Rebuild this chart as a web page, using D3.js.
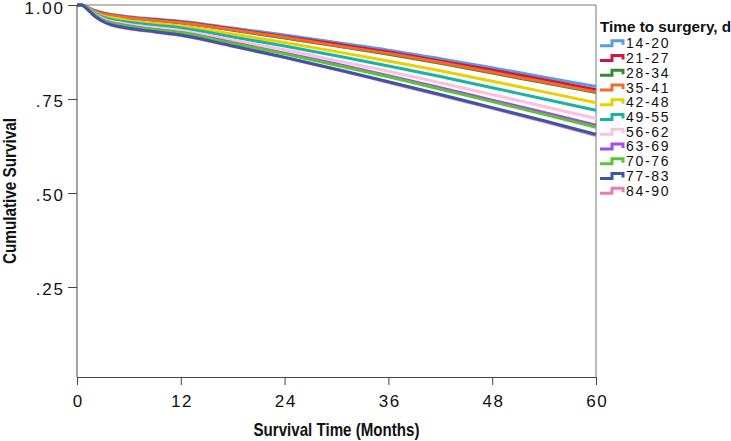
<!DOCTYPE html>
<html><head><meta charset="utf-8">
<script src="https://cdn.jsdelivr.net/npm/d3@7"></script>
<style>
html,body{margin:0;padding:0;background:#fff;}
svg{display:block;font-family:"Liberation Sans",Arial,sans-serif;}
</style></head>
<body>
<svg id="chart" width="731" height="441"></svg>
<script>
// ---- data ----
const months = [0, 0.5, 1, 1.5, 2, 3, 4, 5, 6, 9, 12, 18, 24, 30, 36, 42, 48, 54, 60];
const groups = ["14-20","21-27","28-34","35-41","42-48","49-55","56-62","63-69","70-76","77-83","84-90"];
const colors = ["#5b9be6","#d7153a","#2e8b2e","#f26b2a","#e6d200","#18b3a2","#f7c3de","#a24be6","#5dc236","#3c56a6","#f07bae"];
const s14_20 = [1,1,0.996,0.991,0.986,0.979,0.975,0.972,0.969,0.963,0.957,0.939,0.920,0.900,0.880,0.857,0.833,0.808,0.783];
const s21_27 = [1,1,0.996,0.990,0.985,0.978,0.973,0.970,0.967,0.961,0.955,0.936,0.916,0.896,0.875,0.851,0.827,0.801,0.775];
const s28_34 = [1,1,0.996,0.990,0.984,0.976,0.971,0.968,0.965,0.959,0.952,0.933,0.912,0.891,0.869,0.845,0.819,0.793,0.767];
const s35_41 = [1,1,0.996,0.990,0.984,0.976,0.972,0.969,0.966,0.959,0.953,0.934,0.914,0.892,0.871,0.847,0.821,0.795,0.769];
const s42_48 = [1,1,0.995,0.988,0.981,0.971,0.966,0.962,0.958,0.951,0.944,0.923,0.900,0.876,0.851,0.825,0.797,0.769,0.740];
const s49_55 = [1,1,0.995,0.987,0.979,0.968,0.961,0.957,0.954,0.946,0.939,0.915,0.891,0.865,0.838,0.810,0.780,0.750,0.720];
const s56_62 = [1,1,0.994,0.985,0.976,0.964,0.956,0.952,0.948,0.940,0.932,0.907,0.881,0.852,0.824,0.793,0.762,0.730,0.698];
const s63_69 = [1,1,0.994,0.984,0.974,0.960,0.952,0.948,0.944,0.935,0.927,0.900,0.872,0.843,0.812,0.780,0.747,0.714,0.680];
const s70_76 = [1,1,0.993,0.983,0.973,0.959,0.951,0.947,0.943,0.934,0.926,0.898,0.870,0.840,0.809,0.776,0.743,0.709,0.675];
const s77_83 = [1,1,0.993,0.982,0.971,0.956,0.947,0.942,0.938,0.929,0.920,0.891,0.861,0.829,0.796,0.762,0.727,0.692,0.656];
const s84_90 = [1,1,0.993,0.982,0.971,0.956,0.946,0.941,0.937,0.928,0.919,0.890,0.860,0.828,0.794,0.760,0.725,0.690,0.653];
const seriesValues = [s14_20,s21_27,s28_34,s35_41,s42_48,s49_55,s56_62,s63_69,s70_76,s77_83,s84_90];
const xTicks = [0,12,24,36,48,60];
const yTicks = [0.25,0.50,0.75,1.00];
const yTickLabels = [".25",".50",".75","1.00"];
const xTitle = "Survival Time (Months)";
const yTitle = "Cumulative Survival";
const legendTitle = "Time to surgery, d";

// ---- layout ----
const L = 77, R = 596, T = 5, B = 377;
const svg = d3.select("#chart");
const x = d3.scaleLinear().domain([0,60]).range([L,R]);
const y = d3.scaleLinear().domain([0,1]).range([381,T]);
const axisColor = "#444";

// frame (top & right)
svg.append("path").attr("d",`M${L},${T}H${R}V${B}`).attr("fill","none").attr("stroke","#777").attr("stroke-width",1);

// curves
const line = d3.line().x(d=>x(d[0])).y(d=>y(d[1])).curve(d3.curveMonotoneX);
const drawOrder = [10,0,1,2,3,4,5,6,7,8,9];
svg.append("g").selectAll("path").data(drawOrder).join("path")
  .attr("d", i => line(months.map((m,k)=>[m, seriesValues[i][k]])))
  .attr("fill","none").attr("stroke", i=>colors[i]).attr("stroke-width",3).attr("stroke-linejoin","round");

// x axis
const xAxis = d3.axisBottom(x).tickValues(xTicks).tickSize(8).tickSizeOuter(0).tickFormat(d3.format("d"));
const gx = svg.append("g").attr("transform",`translate(0,${B})`).call(xAxis);
gx.select(".domain").attr("stroke",axisColor);
gx.selectAll(".tick line").attr("stroke",axisColor);
gx.selectAll(".tick text").attr("fill","#111").attr("font-size",17).attr("letter-spacing","1.6px")
  .attr("y",null).attr("dy",null).attr("dx","0.8px").attr("transform","translate(0,29.5)");

// y axis
const yAxis = d3.axisLeft(y).tickValues(yTicks).tickSize(9).tickSizeOuter(0).tickFormat((d,i)=>yTickLabels[i]);
const gy = svg.append("g").attr("transform",`translate(${L},0)`).call(yAxis);
gy.select(".domain").attr("d",`M0,${B}V${T}`).attr("stroke",axisColor);
gy.selectAll(".tick line").attr("stroke",axisColor);
gy.selectAll(".tick text").attr("fill","#111").attr("font-size",17).attr("letter-spacing","1.8px")
  .attr("x",-14+1.8).attr("dy",d => d === 1 ? "0.5em" : "0.42em");

// titles
svg.append("text").attr("x",(L+R)/2).attr("y",436).attr("text-anchor","middle")
  .attr("font-weight","bold").attr("font-size",19).attr("fill","#111")
  .attr("textLength",166).attr("lengthAdjust","spacingAndGlyphs").text(xTitle);
svg.append("text").attr("transform",`translate(15.5,${(T+B)/2}) rotate(-90)`).attr("text-anchor","middle")
  .attr("font-weight","bold").attr("font-size",19).attr("fill","#111")
  .attr("textLength",146).attr("lengthAdjust","spacingAndGlyphs").text(yTitle);

// legend
const lg = svg.append("g");
lg.append("text").attr("x",600).attr("y",31.5).attr("font-weight","bold").attr("font-size",15.3).attr("fill","#111").text(legendTitle);
const ly = d3.scalePoint().domain(groups).range([43.3,190.7]);
const items = lg.selectAll("g.item").data(groups).join("g").attr("class","item")
  .attr("transform",d=>`translate(0,${ly(d)})`);
items.append("path").attr("d","M600,2.5H612V-2.5H623V1.5").attr("fill","none")
  .attr("stroke",(d,i)=>colors[i]).attr("stroke-width",3);
items.append("text").attr("x",626).attr("y",5).attr("font-size",14).attr("letter-spacing","1.7px")
  .attr("fill","#111").text(d=>d);
</script>
</body></html>
